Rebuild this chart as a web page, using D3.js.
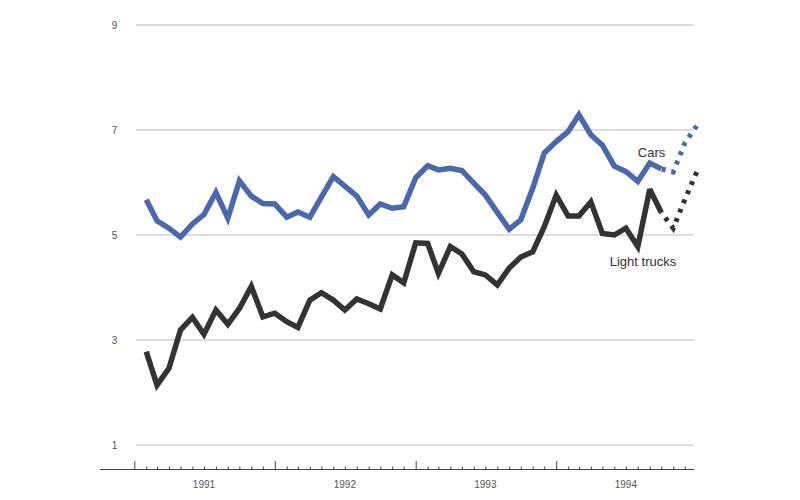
<!DOCTYPE html>
<html>
<head>
<meta charset="utf-8">
<script src="https://cdn.jsdelivr.net/npm/d3@7"></script>
<style>
  html, body { margin: 0; padding: 0; background: #fff; }
  svg { display: block; font-family: "Liberation Sans", Arial, sans-serif; }
</style>
</head>
<body>
<svg id="chart" width="800" height="500"></svg>
<script>
// Monthly data, Jan 1991 – Sep 1994 (actual)
const startMonth = "1991-01";
const cars = [5.67, 5.27, 5.13, 4.96, 5.21, 5.39, 5.81, 5.32, 6.03, 5.74, 5.60, 5.59,
              5.34, 5.44, 5.34, 5.72, 6.11, 5.93, 5.74, 5.38, 5.59, 5.51, 5.54, 6.09,
              6.32, 6.24, 6.27, 6.23, 5.99, 5.76, 5.43, 5.11, 5.29, 5.89, 6.56, 6.78,
              6.97, 7.29, 6.91, 6.71, 6.31, 6.21, 6.02, 6.37, 6.26];
const trucks = [2.78, 2.14, 2.46, 3.19, 3.43, 3.11, 3.57, 3.30, 3.60, 4.02, 3.44, 3.51,
                3.35, 3.24, 3.76, 3.90, 3.76, 3.57, 3.78, 3.69, 3.59, 4.24, 4.09, 4.85,
                4.84, 4.27, 4.78, 4.64, 4.30, 4.24, 4.05, 4.37, 4.58, 4.68, 5.16, 5.76,
                5.36, 5.36, 5.63, 5.03, 5.00, 5.13, 4.78, 5.87, 5.43];
// Forecast, Sep 1994 (last actual) – Dec 1994
const carsForecast = [6.26, 6.20, 6.75, 7.08];
const trucksForecast = [5.43, 5.13, 5.67, 6.20];
const yTicks = [1, 3, 5, 7, 9];
const years = [1991, 1992, 1993, 1994];
const seriesLabels = ["Cars", "Light trucks"];

const svg = d3.select("#chart");
const parse = d3.timeParse("%Y-%m");
const t0 = parse(startMonth);
// each monthly value plotted at the end of its month
const monthEnd = i => d3.timeMonth.offset(t0, i + 1);

const x = d3.scaleTime()
  .domain([new Date(1991, 0, 1), new Date(1995, 0, 1)])
  .range([134.3, 696.7]);
const y = d3.scaleLinear().domain([1, 9]).range([445, 25]);

// gridlines + y labels
const grid = svg.append("g");
grid.selectAll("line").data(yTicks).join("line")
  .attr("x1", 136).attr("x2", 694)
  .attr("y1", d => y(d)).attr("y2", d => y(d))
  .attr("stroke", "#bdbdbd").attr("stroke-width", 1.2);
grid.selectAll("text").data(yTicks).join("text")
  .attr("x", 114.5).attr("y", d => y(d) + 3.6)
  .attr("text-anchor", "middle")
  .attr("font-size", 10).attr("fill", "#555")
  .text(d => d);

// x axis
const months = d3.timeMonth.range(new Date(1991, 0, 1), new Date(1994, 11, 2));
const xAxis = d3.axisBottom(x).tickValues(months).tickFormat("").tickSizeOuter(0)
  .tickSize(3);
const gx = svg.append("g").attr("transform", "translate(0,469.5)").call(xAxis);
gx.select(".domain").remove();
gx.selectAll(".tick line")
  .attr("stroke", "#444")
  .attr("y1", 0)
  .attr("y2", d => d.getMonth() === 0 ? -8.5 : -3);
gx.append("line").attr("x1", 100).attr("x2", 694).attr("y1", 0).attr("y2", 0)
  .attr("stroke", "#444").attr("stroke-width", 1.2);
svg.append("g").selectAll("text").data(years).join("text")
  .attr("x", d => x(new Date(d, 6, 1)))
  .attr("y", 488)
  .attr("text-anchor", "middle")
  .attr("font-size", 10).attr("fill", "#555")
  .text(d => d);

// lines
const line = d3.line().x(d => x(d.date)).y(d => y(d.v));
const toPts = (arr, offset) => arr.map((v, i) => ({ date: monthEnd(i + offset), v }));

const lastIdx = cars.length - 1;
const series = [
  { data: cars, fc: carsForecast, color: "#4a68ae" },
  { data: trucks, fc: trucksForecast, color: "#333333" }
];
series.forEach(s => {
  svg.append("path").datum(toPts(s.data, 0))
    .attr("d", line).attr("fill", "none")
    .attr("stroke", s.color).attr("stroke-width", 5.5)
    .attr("stroke-linejoin", "miter").attr("stroke-miterlimit", 3);
  const fp = svg.append("path").datum(toPts(s.fc, lastIdx))
    .attr("d", line).attr("fill", "none")
    .attr("stroke", s.color).attr("stroke-width", 5)
    .attr("stroke-dasharray", "4,6");
  // align the pattern so the path ends on a dash
  const L = fp.node().getTotalLength();
  fp.attr("stroke-dashoffset", 4 - (L % 10));
});

// series labels
svg.append("text").attr("x", 651.5).attr("y", 157).attr("text-anchor", "middle")
  .attr("font-size", 13).attr("fill", "#333").text(seriesLabels[0]);
svg.append("text").attr("x", 643).attr("y", 266).attr("text-anchor", "middle")
  .attr("font-size", 13).attr("fill", "#333").text(seriesLabels[1]);
</script>
</body>
</html>
